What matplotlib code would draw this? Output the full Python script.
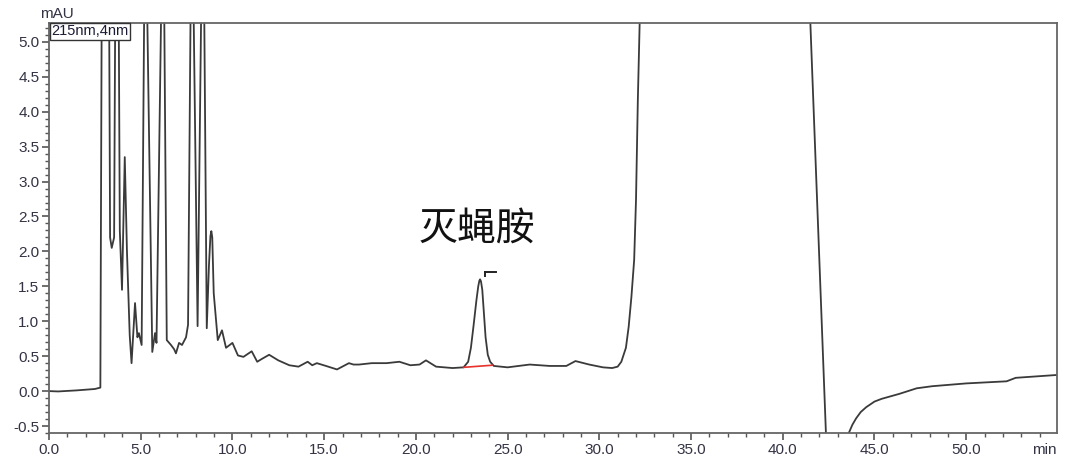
import matplotlib
matplotlib.use("Agg")
import matplotlib.pyplot as plt
from matplotlib.ticker import MultipleLocator, FormatStrFormatter

plt.rcParams['font.family'] = ['Liberation Sans', 'DejaVu Sans']
plt.rcParams['axes.unicode_minus'] = False

# Chromatogram trace (min, mAU); off-scale tops given rough values
time_min = [0.0, 0.5, 1.5, 2.5, 2.80,
            2.88, 3.08, 3.27, 3.33, 3.42, 3.55,
            3.62, 3.70, 3.79, 3.86, 3.98, 4.13, 4.25, 4.40, 4.50,
            4.69, 4.82, 4.90, 5.05,
            5.19, 5.27, 5.35, 5.63, 5.78, 5.86,
            6.12, 6.20, 6.28, 6.42, 6.65, 6.82, 6.92, 7.09, 7.25, 7.47, 7.58,
            7.72, 7.80, 7.88, 8.10,
            8.30, 8.38, 8.46, 8.60,
            8.72, 8.80, 8.85, 8.90, 8.98, 9.20, 9.43, 9.65, 10.0, 10.3, 10.6, 11.05, 11.35,
            11.6, 12.0, 12.5, 13.1, 13.6, 14.1, 14.35, 14.6, 15.1, 15.7,
            16.35, 16.6, 16.9, 17.6, 18.4, 19.1, 19.7, 20.2, 20.55, 21.1,
            22.0, 22.6, 22.85, 23.0, 23.15, 23.3, 23.4, 23.46, 23.5, 23.55, 23.62, 23.7,
            23.8, 23.92, 24.05, 24.25, 25.0, 26.2, 27.3, 28.2, 28.7, 29.45,
            30.2, 30.7, 31.0, 31.2, 31.45, 31.6, 31.75, 31.9, 32.0, 32.1, 32.2, 32.3,
            41.4, 41.5, 42.35, 42.5, 43.45, 43.6, 43.8, 44.0, 44.25, 44.55, 45.0, 45.4, 45.8, 46.35,
            47.3, 48.15, 50.0, 52.2, 52.5, 52.7, 54.9]
signal_mau = [0.0, -0.005, 0.01, 0.03, 0.05,
              6.0, 9.0, 6.0, 2.2, 2.05, 2.2,
              6.0, 9.0, 6.0, 2.3, 1.45, 3.35, 2.0, 0.8, 0.40,
              1.26, 0.77, 0.83, 0.66,
              5.5, 8.0, 5.5, 0.56, 0.83, 0.69,
              5.5, 8.0, 5.5, 0.73, 0.66, 0.60, 0.54, 0.69, 0.66, 0.77, 0.95,
              5.5, 8.0, 5.5, 0.93,
              5.5, 8.0, 5.5, 0.90,
              1.8, 2.22, 2.29, 2.2, 1.4, 0.73, 0.87, 0.62, 0.69, 0.51, 0.49, 0.57, 0.42,
              0.46, 0.52, 0.44, 0.37, 0.35, 0.42, 0.37, 0.40, 0.36, 0.31,
              0.40, 0.38, 0.38, 0.40, 0.40, 0.42, 0.37, 0.38, 0.44, 0.35,
              0.33, 0.34, 0.42, 0.62, 0.95, 1.30, 1.50, 1.58, 1.60, 1.57, 1.45, 1.15,
              0.77, 0.52, 0.42, 0.36, 0.34, 0.38, 0.36, 0.36, 0.43, 0.38,
              0.34, 0.33, 0.35, 0.42, 0.62, 0.92, 1.35, 1.88, 2.74, 4.17, 5.27, 6.4,
              6.0, 5.3, -0.6, -1.6, -1.6, -0.6, -0.48, -0.39, -0.30, -0.23, -0.15, -0.11, -0.08, -0.04,
              0.04, 0.07, 0.11, 0.14, 0.17, 0.19, 0.23]

# integration baseline under the cyromazine peak
base_time = [22.6, 24.15]
base_mau = [0.34, 0.37]

fig = plt.figure(figsize=(10.8, 4.7), dpi=100)
ax = fig.add_axes([49 / 1080, 37 / 470, 1008 / 1080, 410 / 470])

ax.plot(time_min, signal_mau, color='#3a3a3a', lw=1.3, solid_joinstyle='round')
ax.plot(base_time, base_mau, color='#e8322c', lw=1.2)

# small peak marker above the apex
ax.plot([23.75, 24.35], [1.70, 1.70], color='#222222', lw=1.4)
ax.plot([23.75, 23.75], [1.70, 1.65], color='#222222', lw=1.4)

ax.text(23.3, 2.33, '灭蝇胺', family=['Noto Sans CJK SC', 'DejaVu Sans'],
        fontsize=28, ha='center', va='center', color='#111111')

ax.text(0.002, 0.997, '215nm,4nm', transform=ax.transAxes, ha='left', va='top',
        fontsize=10.5, color='#1a1a33',
        bbox=dict(boxstyle='square,pad=0.1', fc='white', ec='#333333', lw=1.0))

ax.set_xlim(0, 54.95)
ax.set_ylim(-0.6, 5.27)
ax.xaxis.set_major_locator(MultipleLocator(5))
ax.xaxis.set_minor_locator(MultipleLocator(1))
ax.yaxis.set_major_locator(MultipleLocator(0.5))
ax.yaxis.set_minor_locator(MultipleLocator(0.1))
ax.xaxis.set_major_formatter(FormatStrFormatter('%.1f'))
ax.yaxis.set_major_formatter(FormatStrFormatter('%.1f'))
ax.set_xticks([t for t in range(0, 55, 5)])

ax.tick_params(which='major', direction='out', length=5, width=1.2, color='#555555',
               labelsize=11, labelcolor='#333344', pad=2)
ax.tick_params(which='minor', direction='out', length=3, width=1.0, color='#555555')
for s in ax.spines.values():
    s.set_color('#666666')
    s.set_linewidth(1.3)

fig.text(57 / 1080, 1 - 14 / 470, 'mAU', ha='center', va='center', fontsize=11, color='#333344')
fig.text(1057 / 1080, 1 - 450 / 470, 'min', ha='right', va='center', fontsize=11, color='#333344')

fig.savefig('out.png', dpi=100)
